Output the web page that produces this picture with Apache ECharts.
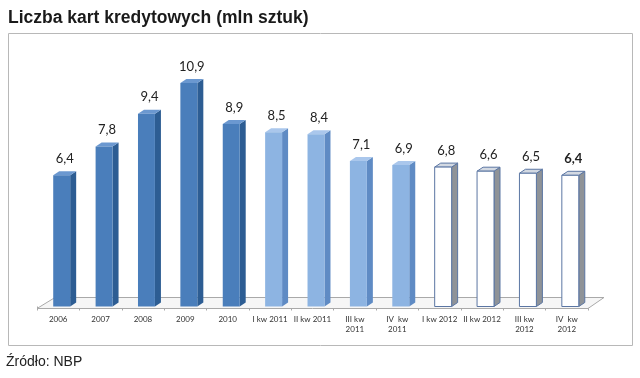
<!DOCTYPE html>
<html lang="pl">
<head>
<meta charset="utf-8">
<script src="https://cdn.jsdelivr.net/npm/echarts@6/dist/echarts.min.js"></script>
<style>
  html, body { margin: 0; padding: 0; background: #fff; }
  #chart { width: 640px; height: 378px; }
</style>
</head>
<body>
<div id="chart"></div>
<script>
var categories = ['2006', '2007', '2008', '2009', '2010', 'I kw 2011', 'II kw 2011',
  'III kw\n2011', 'IV  kw\n2011', 'I kw 2012', 'II kw 2012', 'III kw\n2012', 'IV  kw\n2012'];
var values = [6.4, 7.8, 9.4, 10.9, 8.9, 8.5, 8.4, 7.1, 6.9, 6.8, 6.6, 6.5, 6.4];

// kolory: lata, kwartały 2011, kwartały 2012
function palette(i) {
  if (i < 5) return { front: '#4a7ebb', side: '#2d5d93', top: '#6b98d0', stroke: null };
  if (i < 9) return { front: '#8db4e2', side: '#5f8bc4', top: '#aac7ec', stroke: null };
  return { front: '#ffffff', side: '#8f9398', top: '#d3d9e2', stroke: '#5b76a3' };
}

var DX = 6, DY = -4;

function renderBar(params, api) {
  var i = api.value(0), v = api.value(1);
  var base = api.coord([i, 0]);
  var top = api.coord([i, v]);
  var band = api.size([1, 0])[0];
  var w = band * 0.4;
  var x0 = base[0] - w / 2 + 3.5;
  var c = palette(i);
  var lw = c.stroke ? 1 : 0;
  var children = [
    { type: 'polygon', shape: { points: [[x0 + w, top[1]], [x0 + w + DX, top[1] + DY], [x0 + w + DX, base[1] + DY], [x0 + w, base[1]]] },
      style: { fill: c.side, stroke: c.stroke, lineWidth: lw } },
    { type: 'polygon', shape: { points: [[x0, top[1]], [x0 + DX, top[1] + DY], [x0 + w + DX, top[1] + DY], [x0 + w, top[1]]] },
      style: { fill: c.top, stroke: c.stroke, lineWidth: lw } },
    { type: 'rect', shape: { x: x0, y: top[1], width: w, height: base[1] - top[1] },
      style: { fill: c.front, stroke: c.stroke, lineWidth: lw } },
    { type: 'text', x: x0 + (w + DX) / 2, y: top[1] + DY - 6,
      style: { text: String(v).replace('.', ','), align: 'center', verticalAlign: 'bottom',
        font: (i === values.length - 1 ? 'bold ' : '') + '13px Lato, "Open Sans", sans-serif', fill: '#222' } }
  ];
  return { type: 'group', children: children };
}

function renderFloor(params, api) {
  var band = api.size([1, 0])[0];
  var left = api.coord([0, 0])[0] - band / 2;
  var right = api.coord([categories.length - 1, 0])[0] + band / 2;
  var yf = api.coord([0, 0])[1] + 2;
  var yb = yf - 11;
  return {
    type: 'polygon',
    shape: { points: [[left, yf], [right, yf], [right + 16, yb], [left + 18, yb]] },
    style: { fill: '#f6f6f6', stroke: '#a9a9a9', lineWidth: 1 }
  };
}

var chart = echarts.init(document.getElementById('chart'));
chart.setOption({
  animation: false,
  title: {
    text: 'Liczba kart kredytowych (mln sztuk)',
    left: 3, top: 4,
    textStyle: { fontFamily: '"Liberation Sans", Arial, sans-serif', fontWeight: 'bold', fontSize: 17.5, color: '#1a1a1a' }
  },
  graphic: [
    { type: 'rect', shape: { x: 8.5, y: 33.5, width: 624, height: 312 }, style: { fill: 'none', stroke: '#b8b8b8', lineWidth: 1 }, z: -1 },
    { type: 'text', left: 6, top: 355, style: { text: 'Źródło: NBP', font: '14px "Liberation Sans", Arial, sans-serif', fill: '#222' } }
  ],
  grid: { left: 37, right: 52, top: 60.5, bottom: 71.5 },
  xAxis: {
    type: 'category',
    data: categories,
    offset: 2,
    axisLine: { show: false },
    axisTick: { show: true, length: 4, lineStyle: { color: '#a9a9a9' } },
    axisLabel: { interval: 0, margin: 6, fontSize: 8, lineHeight: 10, color: '#333', fontFamily: 'Lato, "Open Sans", sans-serif' }
  },
  yAxis: { type: 'value', min: 0, max: 12, show: false, splitLine: { show: false } },
  series: [
    { type: 'custom', renderItem: renderFloor, data: [[0, 0]], silent: true, z: 1 },
    { type: 'custom', renderItem: renderBar, data: values.map(function (v, i) { return [i, v]; }), z: 2 }
  ]
});
</script>
</body>
</html>
